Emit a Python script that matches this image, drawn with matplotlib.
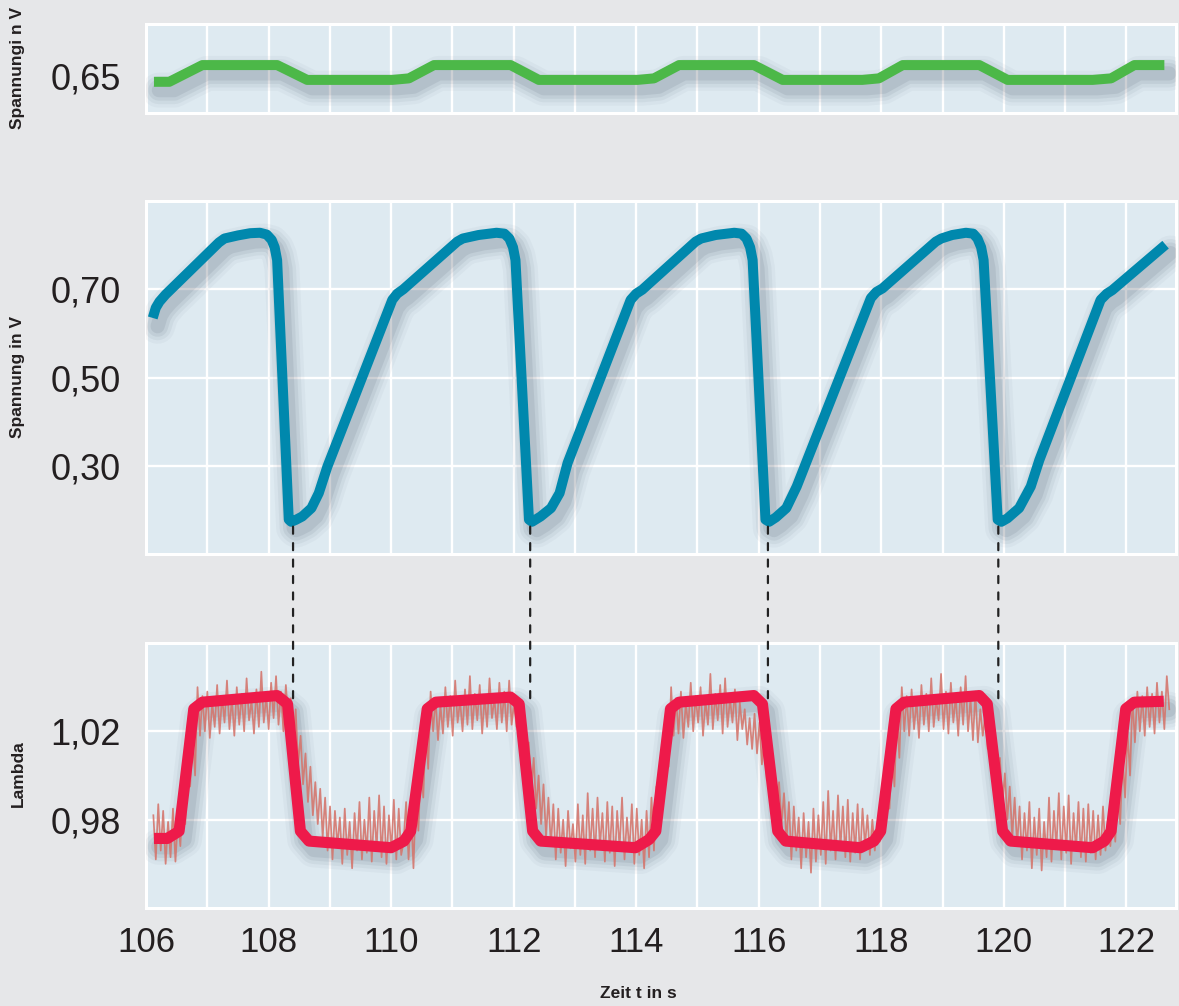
import numpy as np
import matplotlib
matplotlib.use("Agg")
import matplotlib.pyplot as plt
import matplotlib.transforms as mtransforms
from matplotlib.patches import ConnectionPatch

plt.rcParams['font.family'] = ['Liberation Sans', 'DejaVu Sans']

# ---------------- data ----------------
x_ticks = list(range(106, 123))
x_ticklabels = ["106", "", "108", "", "110", "", "112", "", "114", "", "116", "", "118", "", "120", "", "122"]

top_yticks = [0.65]
top_yticklabels = ["0,65"]
mid_yticks = [0.30, 0.50, 0.70]
mid_yticklabels = ["0,30", "0,50", "0,70"]
bot_yticks = [0.98, 1.02]
bot_yticklabels = ["0,98", "1,02"]

green_t = [106.13, 106.38, 106.92, 108.14, 108.63, 110.02, 110.29, 110.70, 111.95, 112.41,
           114.02, 114.29, 114.70, 115.92, 116.39, 117.69, 117.96, 118.35, 119.60, 120.06,
           121.45, 121.75, 122.13, 122.62]
green_v = [0.6430, 0.6430, 0.6650, 0.6650, 0.6455, 0.6455, 0.6475, 0.6650, 0.6650, 0.6455,
           0.6455, 0.6475, 0.6650, 0.6650, 0.6455, 0.6455, 0.6475, 0.6650, 0.6650, 0.6455,
           0.6455, 0.6475, 0.6650, 0.6650]

blue_t = [106.11, 106.16, 106.22, 106.32, 107.19, 107.28, 107.50, 107.70, 107.86, 107.97,
          108.05, 108.10, 108.14, 108.33, 108.37, 108.44, 108.55, 108.70, 108.82, 108.96,
          110.02, 110.10, 110.20, 111.08, 111.17, 111.43, 111.72, 111.85, 111.93, 111.99,
          112.03, 112.25, 112.30, 112.44, 112.61, 112.75, 112.88, 113.91, 114.00, 114.10,
          114.97, 115.06, 115.30, 115.60, 115.72, 115.80, 115.86, 115.90, 116.11, 116.17,
          116.28, 116.45, 116.62, 116.79, 117.83, 117.92, 118.02, 118.89, 118.98, 119.16,
          119.38, 119.50, 119.57, 119.63, 119.67, 119.90, 119.96, 120.06, 120.25, 120.44,
          120.58, 121.58, 121.68, 121.77, 122.64]
blue_v = [0.635, 0.658, 0.672, 0.688, 0.806, 0.815, 0.822, 0.827, 0.828, 0.824,
          0.812, 0.795, 0.766, 0.178, 0.173, 0.177, 0.185, 0.204, 0.238, 0.298,
          0.676, 0.690, 0.700, 0.808, 0.815, 0.823, 0.828, 0.826, 0.815, 0.795,
          0.766, 0.178, 0.173, 0.185, 0.204, 0.238, 0.306, 0.676, 0.690, 0.699,
          0.808, 0.815, 0.823, 0.828, 0.826, 0.815, 0.795, 0.766, 0.178, 0.173,
          0.183, 0.204, 0.253, 0.313, 0.680, 0.694, 0.702, 0.808, 0.815, 0.823,
          0.828, 0.826, 0.815, 0.795, 0.766, 0.178, 0.173, 0.181, 0.204, 0.253,
          0.313, 0.676, 0.690, 0.698, 0.801]

red_t = [106.13, 106.35, 106.54, 106.78, 106.92, 108.14, 108.31, 108.52, 108.66, 110.00,
         110.21, 110.32, 110.59, 110.73, 111.95, 112.09, 112.31, 112.44, 113.99, 114.21,
         114.32, 114.56, 114.70, 115.92, 116.06, 116.31, 116.44, 117.66, 117.88, 117.99,
         118.24, 118.37, 119.60, 119.73, 119.98, 120.11, 121.45, 121.64, 121.75, 121.99,
         122.13, 122.61]
red_v = [0.9715, 0.9715, 0.9748, 1.0302, 1.0332, 1.0362, 1.0324, 0.9748, 0.9703, 0.9673,
         0.9703, 0.9748, 1.0302, 1.0332, 1.0355, 1.0324, 0.9748, 0.9703, 0.9673, 0.9710,
         0.9748, 1.0302, 1.0332, 1.0362, 1.0324, 0.9748, 0.9703, 0.9673, 0.9703, 0.9748,
         1.0302, 1.0332, 1.0362, 1.0324, 0.9748, 0.9703, 0.9673, 0.9703, 0.9748, 1.0302,
         1.0332, 1.0336]

# raw lambda signal (thousandths), sampled evenly from 106.12 s to 122.70 s
lambda_raw_milli = [
    982, 962, 987, 966, 984, 960, 979, 963, 985, 961,
    980, 968, 990, 978, 1003, 995, 1020, 1000, 1040,
    1018, 1036, 1020, 1038, 1017, 1033, 1022, 1041, 1019, 1036, 1024, 1043, 1021, 1035, 1018, 1040,
    1023, 1037, 1020, 1044, 1025, 1034, 1019, 1039, 1022, 1047, 1024, 1036, 1021, 1042, 1026, 1045,
    1023, 1038, 1020, 1041,
    1025, 1035, 1012, 1030, 1005, 1018, 996, 1010, 988, 1004, 982, 997, 978, 994, 972,
    990, 966, 986, 962, 984, 968, 981, 960, 985, 964, 979, 958, 983, 966, 988, 962,
    980, 965, 990, 961, 984, 967, 991, 963, 986, 960, 982, 966, 989, 962, 985, 964,
    970, 988, 962, 985, 958, 992, 975, 1005, 990, 1022, 1003, 1038,
    1020, 1035, 1016, 1032, 1019, 1040, 1022, 1036, 1018, 1043, 1024, 1034, 1020, 1039, 1023, 1045,
    1021, 1037, 1025, 1041, 1019, 1036, 1022, 1044, 1026, 1035, 1021, 1042, 1024, 1038, 1020, 1043,
    1023, 1033, 1022,
    1032, 1010, 1028, 1003, 1015, 993, 1008, 985, 1000, 978, 996, 972, 990, 968, 987,
    962, 985, 965, 980, 959, 984, 967, 978, 961, 987, 964, 982, 960, 992, 966, 985,
    963, 990, 968, 983, 961, 988, 965, 986, 959, 984, 967, 990, 962, 981, 966, 987,
    960, 985, 964, 980, 958,
    984, 963, 990, 966, 995, 980, 1008, 992, 1025, 1004, 1040, 1018,
    1035, 1019, 1038, 1017, 1033, 1022, 1042, 1020, 1036, 1024, 1040, 1018, 1034, 1023, 1046, 1021,
    1037, 1025, 1041, 1019, 1044, 1022, 1035, 1024, 1039, 1016, 1033, 1021, 1030, 1014, 1026, 1012,
    1028, 1010,
    1024, 1005, 1018, 998, 1010, 990, 1002, 984, 997, 978, 992, 970, 988,
    962, 986, 966, 981, 958, 983, 963, 979, 956, 985, 961, 982, 964, 988, 960, 993,
    966, 984, 962, 991, 967, 986, 963, 989, 961, 983, 965, 987, 962, 985, 968, 982,
    964, 980, 966, 978,
    970, 988, 975, 1000, 985, 1012, 995, 1028, 1008, 1040, 1020,
    1036, 1018, 1039, 1021, 1034, 1017, 1041, 1023, 1037, 1020, 1044, 1022, 1035, 1025, 1046, 1021,
    1038, 1019, 1042, 1024, 1036, 1018, 1040, 1023, 1045, 1020, 1035, 1016, 1038, 1015, 1030, 1018,
    1027,
    1012, 1025, 1003, 1015, 995, 1008, 987, 1001, 980, 995, 972, 990, 968,
    986, 962, 983, 966, 988, 958, 981, 964, 985, 957, 979, 963, 990, 961, 984, 967,
    992, 962, 986, 965, 991, 960, 983, 966, 988, 963, 985, 961, 987, 965, 984, 962,
    982, 964, 986, 966, 980, 968,
    985, 970, 995, 978, 1008, 990, 1020, 1000, 1035, 1015, 1038,
    1020, 1036, 1018, 1040, 1022, 1037, 1019, 1042, 1024, 1038, 1021, 1045, 1030,
]
raw_start, raw_end = 106.12, 122.70

marker_t = [108.40, 112.27, 116.15, 119.91]
marker_from = [0.162, 0.162, 0.162, 0.162]
marker_to = [1.035, 1.035, 1.035, 1.033]

# ---------------- style ----------------
W, H = 1179, 1006
BG = '#e6e7e9'
FACE = '#deeaf1'
TXT = '#231f20'
GREEN = '#4cb848'
BLUE = '#0088ad'
RED = '#ee1a4a'
NOISE = '#d4766d'

fig = plt.figure(figsize=(W / 100, H / 100), dpi=100, facecolor=BG)

L, R = 146, 1176


def add_ax(top, bottom):
    return fig.add_axes([L / W, 1 - bottom / H, (R - L) / W, (bottom - top) / H])


ax1 = add_ax(24, 113)
ax2 = add_ax(201, 554)
ax3 = add_ax(643, 908)

for ax in (ax1, ax2, ax3):
    ax.set_facecolor(FACE)
    for s in ax.spines.values():
        s.set_color('white')
        s.set_linewidth(2.2)
    ax.set_xlim(106, 122.81)
    ax.set_xticks(x_ticks)
    ax.tick_params(length=0, colors=TXT, labelsize=26, pad=18)
    ax.grid(True, color='white', linewidth=1.7, zorder=1)
    ax.set_axisbelow(True)
    ax.set_xticklabels([])

ax1.grid(False, axis='y')
ax1.set_ylim(0.602, 0.719)
ax1.set_yticks(top_yticks)
ax1.set_yticklabels(top_yticklabels)

ax2.set_ylim(0.10, 0.90)
ax2.set_yticks(mid_yticks)
ax2.set_yticklabels(mid_yticklabels)

ax3.set_ylim(0.94, 1.06)
ax3.set_yticks(bot_yticks)
ax3.set_yticklabels(bot_yticklabels)
ax3.set_xticklabels(x_ticklabels)
ax3.tick_params(axis='x', labelsize=25, pad=13)


def shadow(ax, x, y, lw):
    tr = mtransforms.offset_copy(ax.transData, fig=fig, x=3.5, y=-6, units='points')
    for extra, a in [(18, 0.04), (13, 0.06), (8, 0.08), (3, 0.10)]:
        ax.plot(x, y, color='#3c4c5c', lw=lw + extra, alpha=a, transform=tr,
                solid_joinstyle='round', solid_capstyle='round', zorder=3)


def thick(ax, x, y, color, lw):
    shadow(ax, x, y, lw)
    ax.plot(x, y, color=color, lw=lw, solid_joinstyle='round', solid_capstyle='butt', zorder=5)


thick(ax1, green_t, green_v, GREEN, 7.2)
thick(ax2, blue_t, blue_v, BLUE, 7.2)

raw_t = np.linspace(raw_start, raw_end, len(lambda_raw_milli))
raw_v = np.array(lambda_raw_milli) / 1000.0
ax3.plot(raw_t, raw_v, color=NOISE, lw=1.25, alpha=0.9, zorder=4)
thick(ax3, red_t, red_v, RED, 8.0)

for t, a, b in zip(marker_t, marker_from, marker_to):
    con = ConnectionPatch(xyA=(t, a), coordsA=ax2.transData,
                          xyB=(t, b), coordsB=ax3.transData,
                          color='#222222', lw=1.6, linestyle=(0, (3.2, 4.2)), zorder=10)
    fig.add_artist(con)

lab = dict(fontsize=12.5, fontweight='bold', color=TXT, rotation=90, ha='center', va='center')
fig.text(18 / W, 1 - 68 / H, "Spannungi n V", **lab)
fig.text(18 / W, 1 - 377 / H, "Spannung in V", **lab)
fig.text(18 / W, 1 - 774 / H, "Lambda", **lab)
fig.text(638 / W, 1 - 993 / H, "Zeit t in s", fontsize=12.5, fontweight='bold', color=TXT,
         ha='center', va='center')

fig.savefig('out.png', dpi=100, facecolor=BG)
